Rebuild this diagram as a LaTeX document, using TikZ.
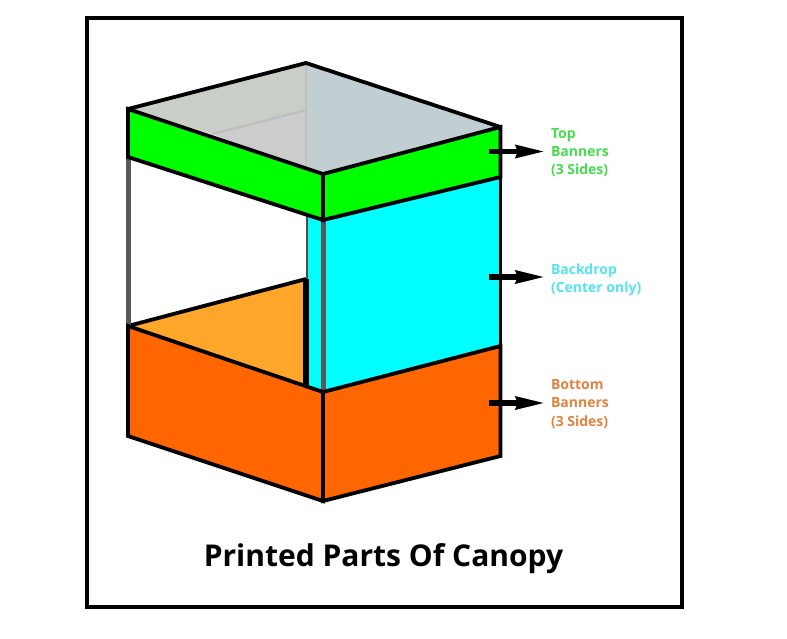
\documentclass[tikz,border=0pt]{standalone}
\usepackage{fontspec}
\setmainfont{Open Sans}
\usetikzlibrary{arrows.meta,positioning}
\definecolor{bannergreen}{HTML}{00FF00}
\definecolor{backcyan}{HTML}{00FFFF}
\definecolor{bannerorange}{HTML}{FF6600}
\definecolor{floororange}{HTML}{FFA62B}
\definecolor{toptextgreen}{HTML}{45DC4F}
\definecolor{backtextcyan}{HTML}{55E3F2}
\definecolor{bottextorange}{HTML}{E0843F}
\begin{document}
\begin{tikzpicture}[x=1pt,y=-1pt]
    % Define Styles
        \tikzstyle{panel} = [draw=black, line width=3.8pt, line join=miter]
        \tikzstyle{pole} = [draw=black!65, line width=5pt]
        \tikzstyle{seam} = [draw=black!25, line width=2.5pt]
        \tikzstyle{callout} = [draw, -{Stealth[length=29pt,width=12.5pt,inset=2pt]}, line width=5.5pt]
        \tikzstyle{sidelabel} = [anchor=west, align=left, inner sep=6pt, outer sep=0pt, font=\fontsize{14}{18.2}\selectfont\bfseries]
    % Frame
        \useasboundingbox (0,0) rectangle (787,638);
        \fill[white] (0,0) rectangle (787,638);
        \draw[line width=3.2pt] (87,18) rectangle (682,607);
    % Roof, seen through
        \fill[fill={rgb,255:red,201;green,207;blue,199}] (128,109) -- (306,63) -- (306,110) -- (212,134) -- cycle;
        \fill[fill={rgb,255:red,204;green,204;blue,204}] (212,134) -- (306,110) -- (306,170) -- cycle;
        \fill[fill={rgb,255:red,194;green,207;blue,210}] (306,63) -- (500,127) -- (323,174) -- (306,170) -- cycle;
        \draw[seam] (306,63) -- (306,170);
        \draw[seam] (306,110) -- (212,134);
    % Backdrop and floor
        \fill[backcyan] (306,216) -- (500,176) -- (500,346) -- (323,392) -- (306,388) -- cycle;
        \fill[floororange] (128,326) -- (306,279) -- (306,388) -- cycle;
        \draw[line width=1.5pt, draw=black!70] (307,216) -- (307,279);
        \draw[line width=3.8pt] (128,326) -- (306,279);
        \draw[line width=6pt] (306,279) -- (306,390);
    % Poles
        \draw[pole] (128,157) -- (128,326);
        \draw[pole] (323,220) -- (323,391);
    % Banners
        \draw[panel, fill=bannergreen] (128,109) -- (323,174) -- (323,220) -- (128,157) -- cycle;
        \draw[panel, fill=bannergreen] (323,174) -- (500.5,127) -- (500.5,177) -- (323,220) -- cycle;
        \draw[panel, fill=bannerorange] (128,326) -- (323,392) -- (323,501) -- (128,436) -- cycle;
        \draw[panel, fill=bannerorange] (323,392) -- (500.5,346) -- (500.5,456) -- (323,501) -- cycle;
        \draw[panel] (128,109) -- (306,63) -- (500.5,127);
        \draw[panel] (500.5,127) -- (500.5,456);
    % Place nodes
        \node [sidelabel, text=toptextgreen] (toplabel) at (545,152.5) {Top\\Banners\\(3 Sides)};
        \node [sidelabel, text=backtextcyan] (backlabel) at (545,279.5) {Backdrop\\(Center only)};
        \node [sidelabel, text=bottextorange] (bottomlabel) at (545,404) {Bottom\\Banners\\(3 Sides)};
        \node [anchor=base, font=\fontsize{30}{32}\selectfont\bfseries] (title) at (383.5,566) {Printed Parts Of Canopy};
        \coordinate (topstart) at (489,151.5);
        \coordinate (backstart) at (489,277);
        \coordinate (bottomstart) at (489,403);
    % Edges
        \draw[callout] (topstart) -- (topstart -| toplabel.west);
        \draw[callout] (backstart) -- (backstart -| backlabel.west);
        \draw[callout] (bottomstart) -- (bottomstart -| bottomlabel.west);
    \end{tikzpicture}
\end{document}
